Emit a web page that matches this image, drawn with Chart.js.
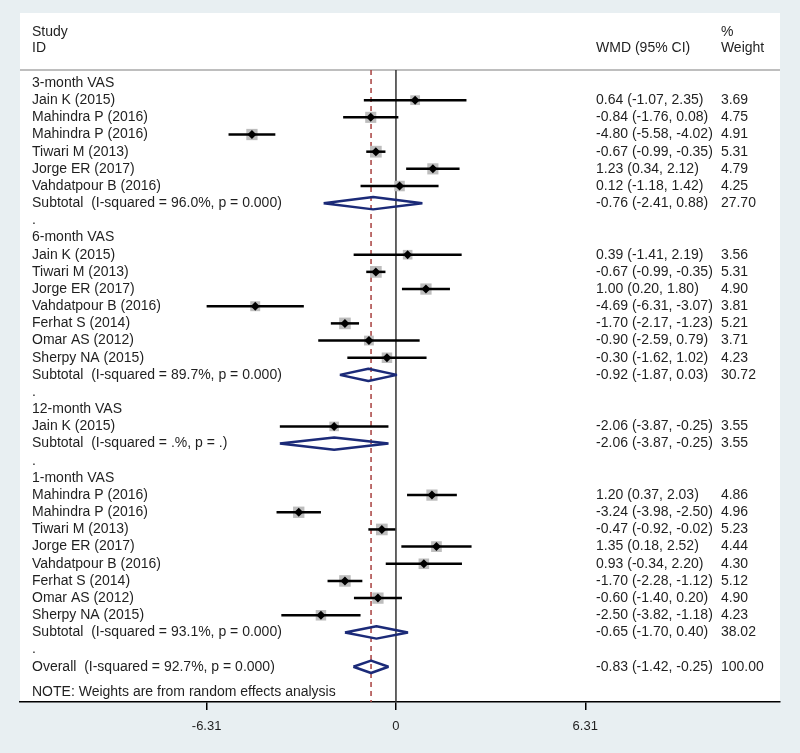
<!DOCTYPE html>
<html>
<head>
<meta charset="utf-8">
<title>Forest plot - WMD of VAS</title>
<script src="https://cdn.jsdelivr.net/npm/chart.js@4.4.1/dist/chart.umd.min.js"></script>
<style>
  html, body { margin:0; padding:0; background:#e8eff2; }
  #wrap { width:800px; height:753px; }
</style>
</head>
<body>
<div id="wrap"><canvas id="forest" width="800" height="753"></canvas></div>
<script>
// ---- data: one entry per row of the plot, top to bottom ----
const ROW_LABELS = [
  '3-month VAS',
  'Jain K (2015)', 'Mahindra P (2016)', 'Mahindra P (2016)', 'Tiwari M (2013)', 'Jorge ER (2017)', 'Vahdatpour B (2016)',
  'Subtotal  (I-squared = 96.0%, p = 0.000)',
  '.',
  '6-month VAS',
  'Jain K (2015)', 'Tiwari M (2013)', 'Jorge ER (2017)', 'Vahdatpour B (2016)', 'Ferhat S (2014)', 'Omar AS (2012)', 'Sherpy NA (2015)',
  'Subtotal  (I-squared = 89.7%, p = 0.000)',
  '.',
  '12-month VAS',
  'Jain K (2015)',
  'Subtotal  (I-squared = .%, p = .)',
  '.',
  '1-month VAS',
  'Mahindra P (2016)', 'Mahindra P (2016)', 'Tiwari M (2013)', 'Jorge ER (2017)', 'Vahdatpour B (2016)', 'Ferhat S (2014)', 'Omar AS (2012)', 'Sherpy NA (2015)',
  'Subtotal  (I-squared = 93.1%, p = 0.000)',
  '.',
  'Overall  (I-squared = 92.7%, p = 0.000)'
];
// g = group title, s = study, t = subtotal, d = spacer dot, o = overall
const ROW_KIND = ['g','s','s','s','s','s','s','t','d',
                  'g','s','s','s','s','s','s','s','t','d',
                  'g','s','t','d',
                  'g','s','s','s','s','s','s','s','s','t','d','o'];
const WMD    = [null, 0.64,-0.84,-4.80,-0.67, 1.23, 0.12,-0.76,null,
                null, 0.39,-0.67, 1.00,-4.69,-1.70,-0.90,-0.30,-0.92,null,
                null,-2.06,-2.06,null,
                null, 1.20,-3.24,-0.47, 1.35, 0.93,-1.70,-0.60,-2.50,-0.65,null,-0.83];
const CI_LO  = [null,-1.07,-1.76,-5.58,-0.99, 0.34,-1.18,-2.41,null,
                null,-1.41,-0.99, 0.20,-6.31,-2.17,-2.59,-1.62,-1.87,null,
                null,-3.87,-3.87,null,
                null, 0.37,-3.98,-0.92, 0.18,-0.34,-2.28,-1.40,-3.82,-1.70,null,-1.42];
const CI_HI  = [null, 2.35, 0.08,-4.02,-0.35, 2.12, 1.42, 0.88,null,
                null, 2.19,-0.35, 1.80,-3.07,-1.23, 0.79, 1.02, 0.03,null,
                null,-0.25,-0.25,null,
                null, 2.03,-2.50,-0.02, 2.52, 2.20,-1.12, 0.20,-1.18, 0.40,null,-0.25];
const WEIGHT = [null, 3.69, 4.75, 4.91, 5.31, 4.79, 4.25,27.70,null,
                null, 3.56, 5.31, 4.90, 3.81, 5.21, 3.71, 4.23,30.72,null,
                null, 3.55, 3.55,null,
                null, 4.86, 4.96, 5.23, 4.44, 4.30, 5.12, 4.90, 4.23,38.02,null,100.00];
const X_TICKS = [-6.31, 0, 6.31];
const NOTE_TEXT = 'NOTE: Weights are from random effects analysis';

// ---- layout ----
const X_MIN = -12.53, X_MAX = 12.8;
const Y_MIN = -0.757, Y_MAX = 36.05;
const NOTE_ROW = 35.45;
const COL_LABEL = -12.13, COL_CI = 6.67, COL_W = 10.83;
const PANEL_TOP = 13;
const FONT = '"Liberation Sans", Arial, sans-serif';
const TEXT = '#1f1f1f';
const NAVY = '#1b2a78';
const HALF_H = 0.36;

const fmt = v => v.toFixed(2);
const overallIdx = ROW_KIND.indexOf('o');

const datasets = [];
// reference lines
datasets.push({ data:[{x:0,y:Y_MIN},{x:0,y:Y_MAX}], showLine:true, borderColor:'#333', borderWidth:1.5, pointRadius:0, order:10 });
datasets.push({ data:[{x:WMD[overallIdx],y:Y_MIN},{x:WMD[overallIdx],y:Y_MAX}], showLine:true, borderColor:'#a8403f',
  borderWidth:1.5, borderDash:[5,4], pointRadius:0, order:9 });

const studyPts = [];
ROW_KIND.forEach((k, i) => {
  if(k === 's'){
    datasets.push({ data:[{x:CI_LO[i],y:i},{x:CI_HI[i],y:i}], showLine:true, borderColor:'#000', borderWidth:2.5, pointRadius:0, order:4 });
    studyPts.push({ x:WMD[i], y:i, w:WEIGHT[i] });
  }else if(k === 't' || k === 'o'){
    datasets.push({
      data:[{x:CI_LO[i],y:i},{x:WMD[i],y:i-HALF_H},{x:CI_HI[i],y:i},{x:WMD[i],y:i+HALF_H},{x:CI_LO[i],y:i}],
      showLine:true, borderColor:NAVY, borderWidth:2.5, borderJoinStyle:'bevel', pointRadius:0, order:3
    });
  }
});
// weight boxes and point markers
datasets.push({ data:studyPts, pointStyle:'rect', backgroundColor:'#bdbdbd', borderWidth:0,
  pointRadius: c => 3.6 * Math.sqrt(c.raw.w), order:5 });
datasets.push({ data:studyPts, pointStyle:'rectRot', backgroundColor:'#000', borderWidth:0, pointRadius:4.5, order:1 });

const panelPlugin = {
  id:'panel',
  beforeDraw(chart){
    const { ctx, chartArea:a } = chart;
    ctx.save();
    ctx.fillStyle = '#e8eff2';
    ctx.fillRect(0, 0, chart.width, chart.height);
    ctx.fillStyle = '#fff';
    ctx.fillRect(a.left, PANEL_TOP, a.right - a.left, a.bottom - PANEL_TOP);
    ctx.strokeStyle = '#a8a8a8'; ctx.lineWidth = 1.5;
    ctx.beginPath(); ctx.moveTo(a.left, a.top); ctx.lineTo(a.right, a.top); ctx.stroke();
    ctx.restore();
  },
  afterDraw(chart){
    const { ctx } = chart;
    const xs = chart.scales.x, ys = chart.scales.y;
    const xl = xs.getPixelForValue(COL_LABEL), xc = xs.getPixelForValue(COL_CI), xw = xs.getPixelForValue(COL_W);
    ctx.save();
    ctx.fillStyle = TEXT;
    ctx.font = '14px ' + FONT;
    ctx.textAlign = 'left'; ctx.textBaseline = 'middle';
    // header
    ctx.fillText('Study', xl, 32); ctx.fillText('ID', xl, 48);
    ctx.fillText('WMD (95% CI)', xc, 48);
    ctx.fillText('%', xw, 32); ctx.fillText('Weight', xw, 48);
    ROW_LABELS.forEach((lab, i) => {
      const y = ys.getPixelForValue(i);
      ctx.fillText(lab, xl, y);
      if(WMD[i] != null){
        ctx.fillText(`${fmt(WMD[i])} (${fmt(CI_LO[i])}, ${fmt(CI_HI[i])})`, xc, y);
        ctx.fillText(fmt(WEIGHT[i]), xw, y);
      }
    });
    ctx.fillText(NOTE_TEXT, xl, ys.getPixelForValue(NOTE_ROW));
    ctx.restore();
  }
};

new Chart(document.getElementById('forest'), {
  type:'scatter',
  data:{ datasets },
  plugins:[panelPlugin],
  options:{
    responsive:false, animation:false, devicePixelRatio:1, events:[],
    layout:{ padding:{ left:20, right:20, top:70, bottom:21 } },
    plugins:{ legend:{ display:false }, tooltip:{ enabled:false } },
    scales:{
      x:{
        type:'linear', position:'bottom', min:X_MIN, max:X_MAX,
        afterBuildTicks: s => { s.ticks = X_TICKS.map(v => ({ value:v })); },
        afterFit: s => { s.height = 30; },
        grid:{ display:true, drawOnChartArea:false, drawTicks:true, tickLength:8, color:'#000', lineWidth:1.5 },
        border:{ display:true, color:'#000', width:1.5 },
        ticks:{ color:TEXT, font:{ family:FONT, size:13 }, padding:9, autoSkip:false, maxRotation:0,
          callback: v => v === 0 ? '0' : v.toFixed(2) }
      },
      y:{ type:'linear', display:false, reverse:true, min:Y_MIN, max:Y_MAX }
    }
  }
});
</script>
</body>
</html>
